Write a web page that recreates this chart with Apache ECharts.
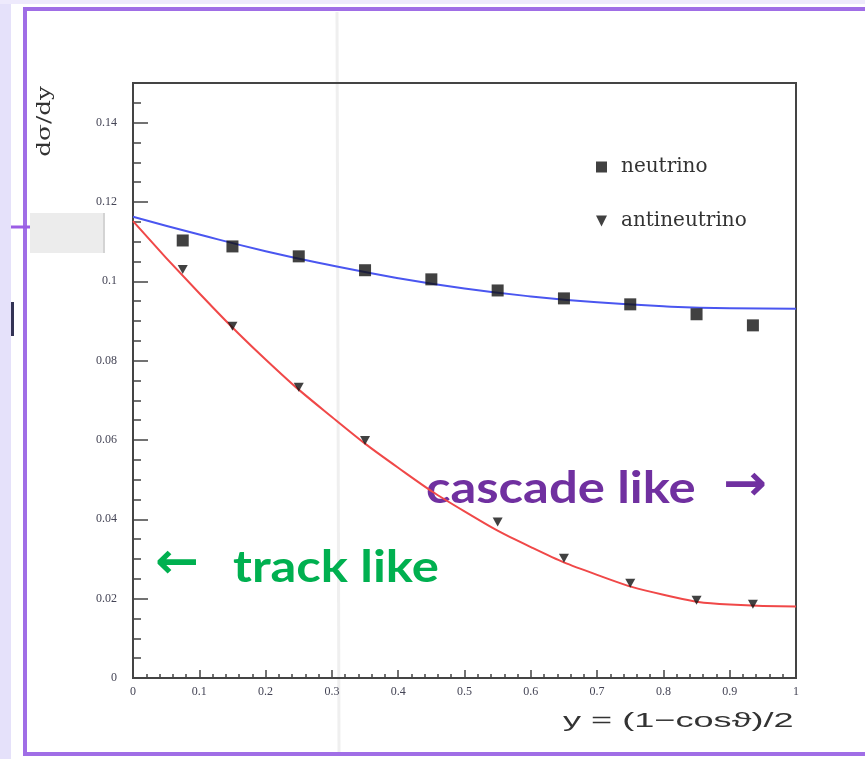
<!DOCTYPE html>
<html>
<head>
<meta charset="utf-8">
<script src="https://cdn.jsdelivr.net/npm/echarts@6/dist/echarts.min.js"></script>
<style>
html,body{margin:0;padding:0;background:#fff;}
#c{width:865px;height:759px;}
</style>
</head>
<body>
<div id="c"></div>
<script>
// data
var neutrinoX = [0.075, 0.15, 0.25, 0.35, 0.45, 0.55, 0.65, 0.75, 0.85, 0.935];
var neutrinoY = [0.1103, 0.1088, 0.1063, 0.1028, 0.1005, 0.0977, 0.0957, 0.0942, 0.0917, 0.0889];
var antiX = [0.075, 0.15, 0.25, 0.35, 0.55, 0.65, 0.75, 0.85, 0.935];
var antiY = [0.1025, 0.0882, 0.0728, 0.0594, 0.0388, 0.0297, 0.0234, 0.0191, 0.0181];
var fitX = [0, 0.1, 0.2, 0.3, 0.4, 0.5, 0.6, 0.7, 0.8, 0.9, 1.0];
var fitNeutrino = [0.1163, 0.1118, 0.1076, 0.1040, 0.1008, 0.0982, 0.0962, 0.0947, 0.0937, 0.0932, 0.0931];
var fitAnti = [0.1152, 0.0970, 0.0803, 0.0658, 0.0530, 0.0420, 0.0330, 0.0260, 0.0210, 0.0185, 0.0180];
var legendNames = ['neutrino', 'antineutrino'];

function zip(a, b) { return a.map(function (v, i) { return [v, b[i]]; }); }

var chart = echarts.init(document.getElementById('c'));
var serif = '"DejaVu Serif", "Liberation Serif", serif';
var bold = 'bold 44px Lato, "Open Sans", sans-serif';
chart.setOption({
  animation: false,
  backgroundColor: '#ffffff',
  graphic: [
    { type: 'rect', z: -10, shape: { x: 0, y: 0, width: 11, height: 759 }, style: { fill: '#e5e1fa' } },
    { type: 'rect', z: -10, shape: { x: 0, y: 0, width: 865, height: 4 }, style: { fill: '#eeeafc' } },
    { type: 'rect', z: -9, shape: { x: 25, y: 9, width: 900, height: 745 }, style: { fill: 'none', stroke: '#a06ee6', lineWidth: 4 } },
    { type: 'rect', z: -9, shape: { x: 30, y: 213, width: 75, height: 40 }, style: { fill: '#ececec' } },
    { type: 'line', z: -9, shape: { x1: 104, y1: 213, x2: 104, y2: 253 }, style: { stroke: '#bbbbbb', lineWidth: 1 } },
    { type: 'line', z: -9, shape: { x1: 11, y1: 227, x2: 30, y2: 227 }, style: { stroke: '#9b5de5', lineWidth: 3 } },
    { type: 'rect', z: -9, shape: { x: 11, y: 302, width: 3, height: 34 }, style: { fill: '#333355' } },
    { type: 'line', z: -9, shape: { x1: 337, y1: 12, x2: 339, y2: 752 }, style: { stroke: '#efefef', lineWidth: 3 } },
    { type: 'text', x: 45, y: 86, rotation: Math.PI / 2, scaleX: 1.3, style: { text: 'dσ/dy', font: '19px ' + serif, fill: '#333', align: 'right', verticalAlign: 'middle' } },
    { type: 'text', x: 563, y: 721, scaleX: 1.72, style: { text: 'y = (1\u2212cos\u03d1)/2', font: '21px "Liberation Sans", Arial, sans-serif', fill: '#333', align: 'left', verticalAlign: 'middle' } },
    { type: 'text', x: 426, y: 489, scaleX: 1.155, style: { text: 'cascade like', font: bold, fill: '#7030a0', align: 'left', verticalAlign: 'middle' } },
    { type: 'text', x: 723, y: 487, scaleX: 1.05, style: { text: '\u2192', font: 'bold 50px "DejaVu Sans", sans-serif', fill: '#7030a0', align: 'left', verticalAlign: 'middle' } },
    { type: 'text', x: 155, y: 565, scaleX: 1.05, style: { text: '\u2190', font: 'bold 50px "DejaVu Sans", sans-serif', fill: '#00b050', align: 'left', verticalAlign: 'middle' } },
    { type: 'text', x: 233, y: 568, scaleX: 1.155, style: { text: 'track like', font: bold, fill: '#00b050', align: 'left', verticalAlign: 'middle' } }
  ],
  legend: {
    orient: 'vertical',
    left: 591, top: 152,
    itemGap: 34,
    itemWidth: 11, itemHeight: 11,
    data: [
      { name: legendNames[0], icon: 'rect' },
      { name: legendNames[1], icon: 'path://M0,0 L10,0 L5,10 Z' }
    ],
    textStyle: { fontFamily: serif, fontSize: 20, color: '#333', padding: [0, 0, 0, 9] }
  },
  grid: { left: 133, top: 83, width: 663, height: 595, show: true, borderColor: '#444', borderWidth: 2, backgroundColor: 'transparent' },
  xAxis: {
    type: 'value', min: 0, max: 1, interval: 0.1,
    axisLine: { show: true, lineStyle: { color: '#444', width: 2 } },
    axisTick: { show: true, inside: true, length: 8, lineStyle: { color: '#444', width: 1.5 } },
    minorTick: { show: true, splitNumber: 5, length: 4, lineStyle: { color: '#444', width: 1.5 } },
    splitLine: { show: false },
    axisLabel: { fontFamily: '"Liberation Serif", serif', fontSize: 12, color: '#445', margin: 8 }
  },
  yAxis: {
    type: 'value', min: 0, max: 0.15, interval: 0.02,
    axisLine: { show: true, lineStyle: { color: '#444', width: 2 } },
    axisTick: { show: true, inside: true, length: 15, lineStyle: { color: '#444', width: 1.5 } },
    minorTick: { show: true, splitNumber: 4, length: 8, lineStyle: { color: '#444', width: 1.5 } },
    splitLine: { show: false },
    axisLabel: { fontFamily: '"Liberation Serif", serif', fontSize: 12, color: '#445', margin: 16, showMaxLabel: false }
  },
  series: [
    { type: 'line', name: 'fitN', data: zip(fitX, fitNeutrino), smooth: true, showSymbol: false, lineStyle: { color: '#4a56f0', width: 2 }, z: 2, silent: true },
    { type: 'line', name: 'fitA', data: zip(fitX, fitAnti), smooth: true, showSymbol: false, lineStyle: { color: '#f04848', width: 2 }, z: 2, silent: true },
    { type: 'scatter', name: legendNames[0], data: zip(neutrinoX, neutrinoY), symbol: 'rect', symbolSize: 12, itemStyle: { color: '#111' }, z: 3 },
    { type: 'scatter', name: legendNames[1], data: zip(antiX, antiY), symbol: 'path://M0,0 L10,0 L5,10 Z', symbolSize: [10, 9], symbolOffset: [0, -2], itemStyle: { color: '#111' }, z: 3 }
  ]
});
</script>
</body>
</html>
